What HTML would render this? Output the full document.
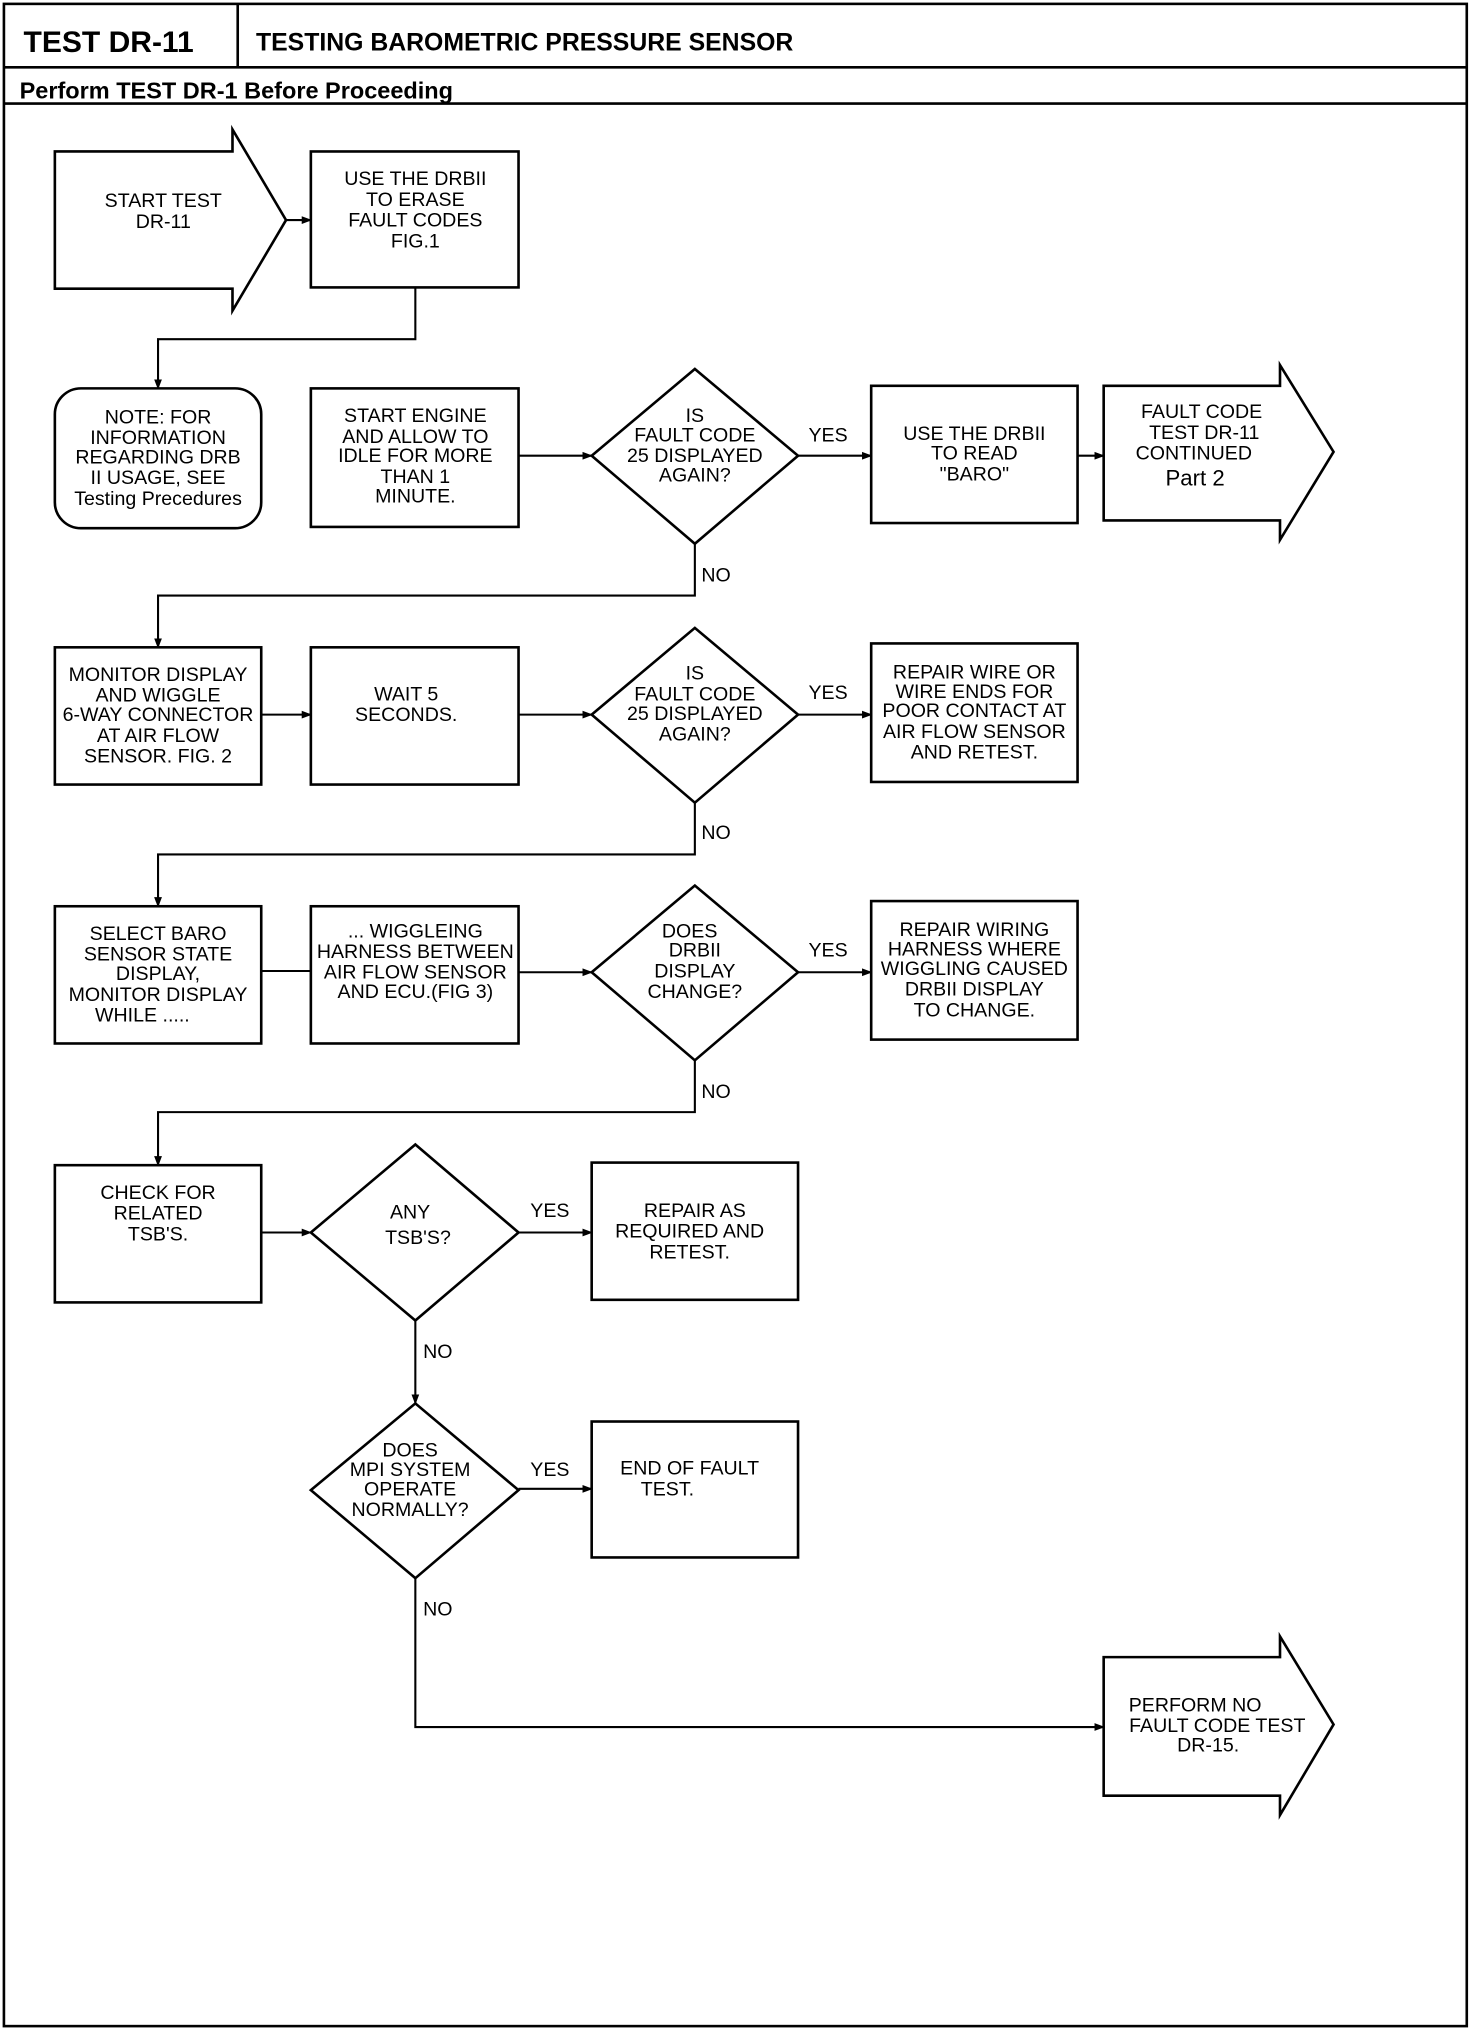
<!DOCTYPE html>
<html><head><meta charset="utf-8"><style>
html,body{margin:0;padding:0;background:#fff}
svg{display:block}
text{font-family:"Liberation Sans",sans-serif;font-size:15px;fill:#000}
.c{text-anchor:middle}
.s{text-anchor:start}
</style></head><body>
<svg width="1472" height="2030" viewBox="0 0 1127 1568" preserveAspectRatio="none" xmlns="http://www.w3.org/2000/svg">
<defs><marker id="a" markerWidth="8" markerHeight="8" refX="7" refY="4" orient="auto" markerUnits="userSpaceOnUse"><path d="M0,1 L8,4 L0,7 z" fill="#000"/></marker></defs>
<g fill="none" stroke="#000" stroke-width="2">
<rect x="3" y="3" width="1120" height="1562"/>
<line x1="3" y1="52" x2="1123" y2="52"/>
<line x1="182" y1="3" x2="182" y2="52"/>
<line x1="3" y1="80" x2="1123" y2="80"/>
<polygon points="42,117 178,117 178,100 219,170 178,240 178,223 42,223"/>
<rect x="238" y="117" width="159" height="105"/>
<rect x="42" y="300" width="158" height="108" rx="20"/>
<rect x="238" y="300" width="159" height="107"/>
<polygon points="453,352 532,285 611,352 532,420"/>
<rect x="667" y="298" width="158" height="106"/>
<polygon points="845,298 980,298 980,282 1021,349 980,417 980,402 845,402"/>
<rect x="42" y="500" width="158" height="106"/>
<rect x="238" y="500" width="159" height="106"/>
<polygon points="453,552 532,485 611,552 532,620"/>
<rect x="667" y="497" width="158" height="107"/>
<rect x="42" y="700" width="158" height="106"/>
<rect x="238" y="700" width="159" height="106"/>
<polygon points="453,751 532,684 611,751 532,819"/>
<rect x="667" y="696" width="158" height="107"/>
<rect x="42" y="900" width="158" height="106"/>
<polygon points="238,952 318,884 397,952 318,1020"/>
<rect x="453" y="898" width="158" height="106"/>
<polygon points="238,1151 318,1084 397,1151 318,1219"/>
<rect x="453" y="1098" width="158" height="105"/>
<polygon points="845,1280 980,1280 980,1264 1021,1332 980,1402 980,1387 845,1387"/>
</g>
<g fill="none" stroke="#000" stroke-width="1.6" marker-end="url(#a)">
<line x1="219" y1="170" x2="238" y2="170"/>
<polyline points="318,222 318,262 121,262 121,300"/>
<line x1="397" y1="352" x2="453" y2="352"/>
<line x1="611" y1="352" x2="667" y2="352"/>
<line x1="825" y1="352" x2="845" y2="352"/>
<polyline points="532,420 532,460 121,460 121,500"/>
<line x1="200" y1="552" x2="238" y2="552"/>
<line x1="397" y1="552" x2="453" y2="552"/>
<line x1="611" y1="552" x2="667" y2="552"/>
<polyline points="532,620 532,660 121,660 121,700"/>
<line x1="397" y1="751" x2="453" y2="751"/>
<line x1="611" y1="751" x2="667" y2="751"/>
<polyline points="532,819 532,859 121,859 121,900"/>
<line x1="200" y1="952" x2="238" y2="952"/>
<line x1="397" y1="952" x2="453" y2="952"/>
<line x1="318" y1="1020" x2="318" y2="1084"/>
<line x1="397" y1="1150" x2="453" y2="1150"/>
<polyline points="318,1219 318,1334 845,1334"/>
</g>
<line x1="200" y1="750" x2="238" y2="750" stroke="#000" stroke-width="1.6"/>
<text x="18" y="40" style="font-size:23px;font-weight:bold">TEST DR-11</text>
<text x="196" y="39" style="font-size:19px;font-weight:bold">TESTING BAROMETRIC PRESSURE SENSOR</text>
<text x="15" y="76" style="font-size:18px;font-weight:bold">Perform TEST DR-1 Before Proceeding</text>
<text class="c" x="125" y="160">START TEST</text><text class="c" x="125" y="176">DR-11</text>
<text class="c" x="318" y="143">USE THE DRBII</text><text class="c" x="318" y="159">TO ERASE</text><text class="c" x="318" y="175">FAULT CODES</text><text class="c" x="318" y="191">FIG.1</text>
<text class="c" x="121" y="327">NOTE: FOR</text><text class="c" x="121" y="343">INFORMATION</text><text class="c" x="121" y="358">REGARDING DRB</text><text class="c" x="121" y="374">II USAGE, SEE</text><text class="c" x="121" y="390">Testing Precedures</text>
<text class="c" x="318" y="326">START ENGINE</text><text class="c" x="318" y="342">AND ALLOW TO</text><text class="c" x="318" y="357">IDLE FOR MORE</text><text class="c" x="318" y="373">THAN 1</text><text class="c" x="318" y="388">MINUTE.</text>
<text class="c" x="532" y="326">IS</text><text class="c" x="532" y="341">FAULT CODE</text><text class="c" x="532" y="357">25 DISPLAYED</text><text class="c" x="532" y="372">AGAIN?</text>
<text class="c" x="634" y="341">YES</text>
<text class="c" x="746" y="340">USE THE DRBII</text><text class="c" x="746" y="355">TO READ</text><text class="c" x="746" y="371">"BARO"</text>
<text class="c" x="920" y="323">FAULT CODE</text><text class="c" x="922" y="339">TEST DR-11</text><text class="c" x="914" y="355">CONTINUED</text><text class="c" x="915" y="375" style="font-size:17px">Part  2</text>
<text class="s" x="537" y="449">NO</text>
<text class="c" x="121" y="526">MONITOR DISPLAY</text><text class="c" x="121" y="542">AND WIGGLE</text><text class="c" x="121" y="557">6-WAY CONNECTOR</text><text class="c" x="121" y="573">AT AIR FLOW</text><text class="c" x="121" y="589">SENSOR. FIG. 2</text>
<text class="c" x="311" y="541">WAIT 5</text><text class="c" x="311" y="557">SECONDS.</text>
<text class="c" x="532" y="525">IS</text><text class="c" x="532" y="541">FAULT CODE</text><text class="c" x="532" y="556">25 DISPLAYED</text><text class="c" x="532" y="572">AGAIN?</text>
<text class="c" x="634" y="540">YES</text>
<text class="c" x="746" y="524">REPAIR WIRE OR</text><text class="c" x="746" y="539">WIRE ENDS FOR</text><text class="c" x="746" y="554">POOR CONTACT AT</text><text class="c" x="746" y="570">AIR FLOW SENSOR</text><text class="c" x="746" y="586">AND RETEST.</text>
<text class="s" x="537" y="648">NO</text>
<text class="c" x="121" y="726">SELECT BARO</text><text class="c" x="121" y="742">SENSOR STATE</text><text class="c" x="121" y="757">DISPLAY,</text><text class="c" x="121" y="773">MONITOR DISPLAY</text><text class="c" x="109" y="789">WHILE .....</text>
<text class="c" x="318" y="724">... WIGGLEING</text><text class="c" x="318" y="740">HARNESS BETWEEN</text><text class="c" x="318" y="756">AIR FLOW SENSOR</text><text class="c" x="318" y="771">AND ECU.(FIG 3)</text>
<text class="c" x="528" y="724">DOES</text><text class="c" x="532" y="739">DRBII</text><text class="c" x="532" y="755">DISPLAY</text><text class="c" x="532" y="771">CHANGE?</text>
<text class="c" x="634" y="739">YES</text>
<text class="c" x="746" y="723">REPAIR WIRING</text><text class="c" x="746" y="738">HARNESS WHERE</text><text class="c" x="746" y="753">WIGGLING CAUSED</text><text class="c" x="746" y="769">DRBII DISPLAY</text><text class="c" x="746" y="785">TO CHANGE.</text>
<text class="s" x="537" y="848">NO</text>
<text class="c" x="121" y="926">CHECK FOR</text><text class="c" x="121" y="942">RELATED</text><text class="c" x="121" y="958">TSB'S.</text>
<text class="c" x="314" y="941">ANY</text><text class="c" x="320" y="961">TSB'S?</text>
<text class="c" x="421" y="940">YES</text>
<text class="c" x="532" y="940">REPAIR AS</text><text class="c" x="528" y="956">REQUIRED AND</text><text class="c" x="528" y="972">RETEST.</text>
<text class="s" x="324" y="1049">NO</text>
<text class="c" x="314" y="1125">DOES</text><text class="c" x="314" y="1140">MPI SYSTEM</text><text class="c" x="314" y="1155">OPERATE</text><text class="c" x="314" y="1171">NORMALLY?</text>
<text class="c" x="421" y="1140">YES</text>
<text class="c" x="528" y="1139">END OF FAULT</text><text class="c" x="511" y="1155">TEST.</text>
<text class="s" x="324" y="1248">NO</text>
<text class="c" x="915" y="1322">PERFORM NO</text><text class="c" x="932" y="1338">FAULT CODE TEST</text><text class="c" x="925" y="1353">DR-15.</text>
</svg>
</body></html>
